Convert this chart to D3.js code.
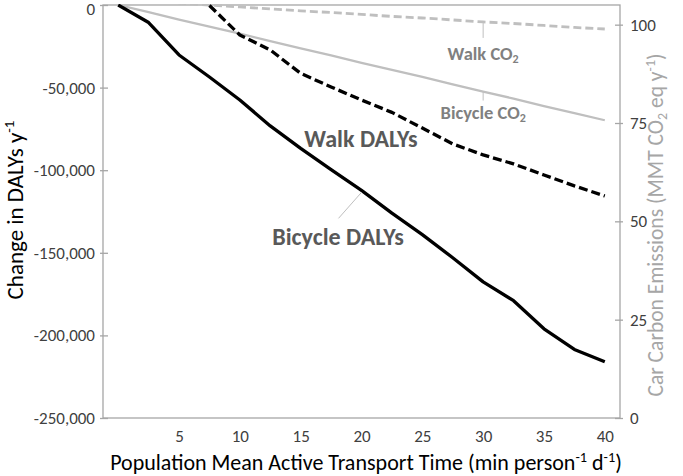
<!DOCTYPE html>
<html><head><meta charset="utf-8">
<script src="https://cdn.jsdelivr.net/npm/d3@7"></script>
<style>body{margin:0;background:#fff} svg{display:block}</style>
</head><body><svg id="c" width="683" height="476"></svg>
<script>
// ---- data ----
const times = [0,2.5,5,7.5,10,12.5,15,17.5,20,22.5,25,27.5,30,32.5,35,37.5,40];
const bicycleDALYs = [0,-10600,-30250,-43600,-57500,-73200,-86800,-99600,-112200,-126000,-139000,-153000,-167600,-179000,-196000,-208500,-216000];
const walkTimes = [7.5,10,12.5,15,17.5,20,22.5,25,27.5,30,32.5,35,37.5,40];
const walkDALYs = [-300,-18150,-27200,-41400,-49600,-57500,-65000,-74500,-84100,-90750,-96200,-102900,-109500,-115600];
const bicycleCO2 = [105,103.2,101.3,99.5,97.7,95.8,94.0,92.2,90.3,88.5,86.7,84.8,83.0,81.2,79.3,77.5,75.7];
const walkCO2 = [106.4,106.0,105.5,105.0,104.5,104.0,103.5,103.1,102.6,102.1,101.7,101.2,100.7,100.3,99.8,99.3,98.9];
const xTicks = [5,10,15,20,25,30,35,40];
const leftTicks = [0,-50000,-100000,-150000,-200000,-250000];
const rightTicks = [0,25,50,75,100];

// ---- layout ----
const L = 103, R = 620, T = 5, B = 418;
const FONT = "Carlito, Calibri, Lato, sans-serif";
const svg = d3.select("#c").style("font-family", FONT);

const x = d3.scaleLinear().domain([-1.25, 41.25]).range([L, R]);
const yL = d3.scaleLinear().domain([-250000, 0]).range([B, T]);
const yR = d3.scaleLinear().domain([0, 105]).range([B, T]);
const loc = d3.formatLocale({decimal: ".", thousands: ",", grouping: [3], currency: ["$", ""], minus: "-"});
const fmt = loc.format(",");

const axisCol = "#A6A6A6", tickTxt = "#404040";

svg.append("defs").append("clipPath").attr("id", "clip")
  .append("rect").attr("x", L).attr("y", T - 1).attr("width", R - L).attr("height", B - T + 2);

// frame
svg.append("rect").attr("x", L).attr("y", T).attr("width", R - L).attr("height", B - T)
  .attr("fill", "none").attr("stroke", axisCol).attr("stroke-width", 1.3);

// left axis
const gL = svg.append("g").attr("transform", `translate(${L},0)`)
  .call(d3.axisLeft(yL).tickValues(leftTicks).tickFormat(fmt).tickSize(0).tickPadding(8));
gL.select(".domain").remove();
gL.selectAll(".tick text").attr("font-size", 17).attr("fill", tickTxt).attr("font-family", FONT);
gL.selectAll(".tick").filter(d => d === 0).select("text").attr("dy", "0.55em");
gL.selectAll(".tick").append("line").attr("x1", -3).attr("x2", 5).attr("stroke", axisCol).attr("stroke-width", 1.3);

// right axis
const gR = svg.append("g").attr("transform", `translate(${R},0)`)
  .call(d3.axisRight(yR).tickValues(rightTicks).tickSize(0).tickPadding(10));
gR.select(".domain").remove();
gR.selectAll(".tick text").attr("font-size", 17).attr("fill", tickTxt).attr("font-family", FONT);
gR.selectAll(".tick").append("line").attr("x1", -5).attr("x2", 3).attr("stroke", axisCol).attr("stroke-width", 1.3);

// bottom axis
const gB = svg.append("g").attr("transform", `translate(0,${B})`)
  .call(d3.axisBottom(x).tickValues(xTicks).tickSize(0).tickPadding(12));
gB.select(".domain").remove();
gB.selectAll(".tick text").attr("font-size", 17).attr("fill", tickTxt).attr("font-family", FONT);

// lines
const lineL = d3.line().x(d => x(d[0])).y(d => yL(d[1]));
const lineR = d3.line().x(d => x(d[0])).y(d => yR(d[1]));
const plot = svg.append("g").attr("fill", "none").attr("stroke-linejoin", "round").attr("clip-path", "url(#clip)");

plot.append("path").datum(times.map((t, i) => [t, bicycleCO2[i]]))
  .attr("d", lineR).attr("stroke", "#BFBFBF").attr("stroke-width", 2.3);
plot.append("path").datum(times.map((t, i) => [t, walkCO2[i]]))
  .attr("d", lineR).attr("stroke", "#BFBFBF").attr("stroke-width", 2.8).attr("stroke-dasharray", "8,4");
plot.append("path").datum(walkTimes.map((t, i) => [t, walkDALYs[i]]))
  .attr("d", lineL).attr("stroke", "#000").attr("stroke-width", 3.3).attr("stroke-dasharray", "9,4");
plot.append("path").datum(times.map((t, i) => [t, bicycleDALYs[i]]))
  .attr("d", lineL).attr("stroke", "#000").attr("stroke-width", 3.3);

// leader lines
const i30 = times.indexOf(30), i20 = times.indexOf(20);
const lead = svg.append("g").attr("stroke", "#BFBFBF").attr("stroke-width", 1);
lead.append("line").attr("x1", x(30)).attr("x2", x(30)).attr("y1", yR(walkCO2[i30])).attr("y2", yR(walkCO2[i30]) + 16);
lead.append("line").attr("x1", x(30)).attr("x2", x(30)).attr("y1", yR(bicycleCO2[i30])).attr("y2", yR(bicycleCO2[i30]) + 9);
lead.append("line").attr("x1", x(20)).attr("y1", yL(bicycleDALYs[i20]) + 2).attr("x2", x(20) - 23).attr("y2", yL(bicycleDALYs[i20]) + 28);

// rich text helper: parts = [text, kind]; kind: undefined | "sup" | "sub"
function rich(sel, parts, size) {
  parts.forEach(p => {
    const t = sel.append("tspan").text(p[0]);
    if (p[1] === "sup") t.attr("font-size", size * 0.65).attr("baseline-shift", `${size * 0.38}px`);
    if (p[1] === "sub") t.attr("font-size", size * 0.65).attr("baseline-shift", `${-size * 0.18}px`);
  });
}
rich(svg.append("text").attr("x", x(30)).attr("y", 60).attr("text-anchor", "middle")
  .attr("font-size", 18.5).attr("font-weight", "bold").attr("fill", "#808080"), [["Walk CO"], ["2", "sub"]], 18.5);
rich(svg.append("text").attr("x", x(30)).attr("y", 119).attr("text-anchor", "middle")
  .attr("font-size", 18.5).attr("font-weight", "bold").attr("fill", "#808080"), [["Bicycle CO"], ["2", "sub"]], 18.5);
svg.append("text").attr("x", 361).attr("y", 147).attr("text-anchor", "middle")
  .attr("font-size", 24).attr("font-weight", "bold").attr("fill", "#595959").text("Walk DALYs");
svg.append("text").attr("x", 338).attr("y", 245).attr("text-anchor", "middle")
  .attr("font-size", 24).attr("font-weight", "bold").attr("fill", "#595959").text("Bicycle DALYs");

// axis titles
rich(svg.append("text").attr("transform", "translate(23,210) rotate(-90)").attr("text-anchor", "middle")
  .attr("font-size", 23).attr("fill", "#000"), [["Change in DALYs y"], ["-1", "sup"]], 23);
rich(svg.append("text").attr("transform", "translate(663,225) rotate(-90)").attr("text-anchor", "middle")
  .attr("font-size", 21.5).attr("fill", "#A6A6A6"),
  [["Car Carbon Emissions (MMT CO"], ["2", "sub"], [" eq y"], ["-1", "sup"], [")"]], 21.5);
rich(svg.append("text").attr("x", 366).attr("y", 470).attr("text-anchor", "middle")
  .attr("font-size", 22).attr("fill", "#000"),
  [["Population Mean Active Transport Time (min person"], ["-1", "sup"], [" d"], ["-1", "sup"], [")"]], 22);
</script></body></html>
